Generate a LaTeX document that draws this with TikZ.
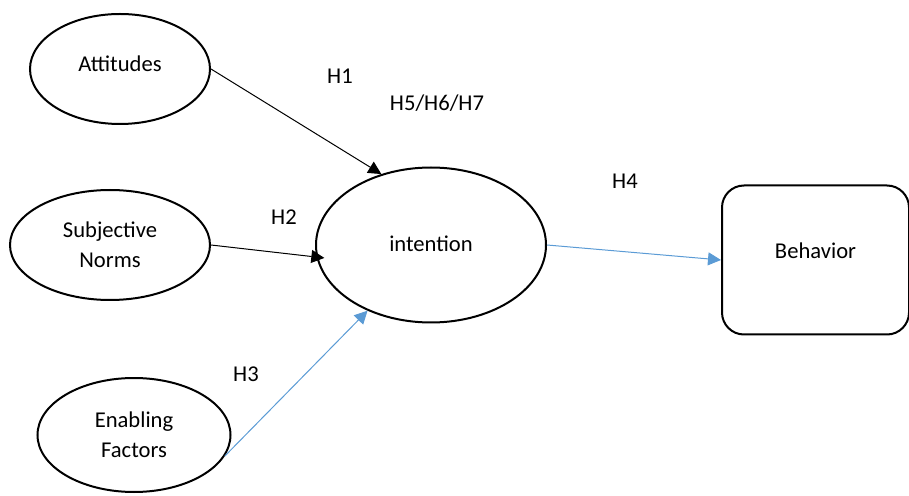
\documentclass[tikz,border=0pt]{standalone}
\usepackage{fontspec}
\setmainfont{Carlito}
\usetikzlibrary{shapes.geometric,arrows.meta}
\definecolor{arrowblue}{HTML}{5B9BD5}
\newcommand{\liftby}[2]{\raisebox{#1}[\height][\depth]{#2}}
\begin{document}
\begin{tikzpicture}[x=0.5pt,y=-0.5pt,
  font=\fontsize{11.3}{15}\selectfont,
  oval/.style={ellipse,draw,line width=1pt,inner sep=0pt,align=center},
  blk/.style={line width=0.5pt,-{Triangle[length=6.5pt,width=6.5pt]}},
  blu/.style={line width=0.5pt,draw=arrowblue,-{Triangle[length=6.5pt,width=6.5pt,fill=arrowblue]}},
  lbl/.style={inner sep=0pt}]
\useasboundingbox (0,0) rectangle (909,496);
\node[oval,minimum width=90pt,minimum height=55pt] (att) at (120,69) {\liftby{2.5pt}{Attitudes}};
\node[oval,minimum width=100pt,minimum height=55pt] (sn) at (110,245) {Subjective\\Norms};
\node[oval,minimum width=96.5pt,minimum height=57pt] (en) at (134,435) {Enabling\\Factors};
\node[oval,minimum width=115pt,minimum height=77.5pt] (int) at (431,245) {\liftby{0.5pt}{intention}};
\node[draw,line width=1pt,rounded corners=11pt,minimum width=93.5pt,minimum height=74.5pt] (beh) at (815.5,260) {\liftby{4.5pt}{Behavior}};
\draw[blk] (att.east) -- (int.125);
\draw[blk,shorten >=-4pt] (sn.east) -- (int.186);
\draw[blu] (en.-13) -- (int.226);
\draw[blu] (int.east) -- (beh.west);
\node[lbl] (h1) at (340,76) {H1};
\node[lbl] (h567) at (437,103) {H5/H6/H7};
\node[lbl] (h2) at (284,217) {H2};
\node[lbl] (h4) at (625,181) {H4};
\node[lbl] (h3) at (246,374) {H3};
\end{tikzpicture}
\end{document}
